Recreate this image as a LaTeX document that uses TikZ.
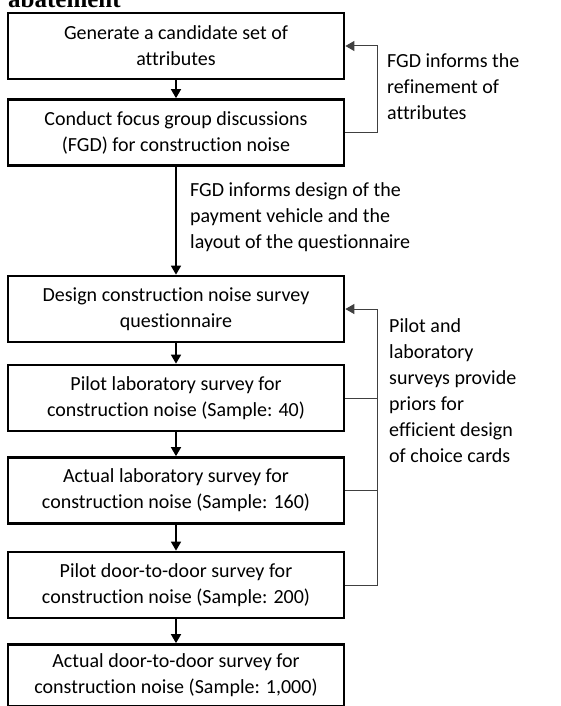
\documentclass[tikz,border=0pt]{standalone}
\usepackage{fontspec}
\setmainfont{Carlito}[Ligatures=NoCommon]
\newfontfamily\titlefont{Liberation Serif}
\usetikzlibrary{arrows.meta}
\begin{document}
\begin{tikzpicture}[x=1pt,y=-1pt,
  box/.style={draw, line width=2.7pt, minimum width=336pt, minimum height=66pt, align=center, inner sep=0pt, font=\fontsize{20}{26}\selectfont},
  flow/.style={-{Triangle[length=9pt,width=10pt]}, line width=1.6pt},
  loopline/.style={line width=1pt, black!75},
  looparrow/.style={loopline, -{Triangle[length=9pt,width=10pt]}},
  note/.style={align=left, inner sep=0pt, anchor=west, font=\fontsize{20}{26}\selectfont}]
\useasboundingbox (0,0) rectangle (561,706);
\clip (0,0) rectangle (561,706);
\node[anchor=base west, inner sep=0pt, font=\titlefont\bfseries\fontsize{25}{30}\selectfont] (title) at (8,8) {abatement};
\node[box] (b1) at (176,46) {Generate a candidate set of\\attributes};
\node[box] (b2) at (176,132.5) {Conduct focus group discussions\\(FGD) for construction noise};
\node[box] (b3) at (176,309) {Design construction noise survey\\questionnaire};
\node[box] (b4) at (176,398) {Pilot laboratory survey for\\construction noise (Sample: 40)};
\node[box] (b5) at (176,490.5) {Actual laboratory survey for\\construction noise (Sample: 160)};
\node[box] (b6) at (176,585) {Pilot door-to-door survey for\\construction noise (Sample: 200)};
\node[box, minimum height=62pt] (b7) at (176,675.5) {Actual door-to-door survey for\\construction noise (Sample: 1,000)};
\coordinate (rx) at (377,0);
\draw[flow] (b1) -- (b2);
\draw[flow] (b2) -- (b3);
\draw[flow] (b3) -- (b4);
\draw[flow] (b4) -- (b5);
\draw[flow] (b5) -- (b6);
\draw[flow] (b6) -- (b7);
\draw[looparrow] (b2.east) -- (b2.east -| rx) |- (b1.east);
\draw[looparrow] (b6.east) -- (b6.east -| rx) |- (b3.east);
\draw[loopline] (b4.east) -- (b4.east -| rx);
\draw[loopline] (b5.east) -- (b5.east -| rx);
\node[note] (n1) at (387,87) {FGD informs the\\refinement of\\attributes};
\node[note] (n2) at (190,217) {FGD informs design of the\\payment vehicle and the\\layout of the questionnaire};
\node[note] (n3) at (389,391) {Pilot and\\laboratory\\surveys provide\\priors for\\efficient design\\of choice cards};
\end{tikzpicture}
\end{document}
